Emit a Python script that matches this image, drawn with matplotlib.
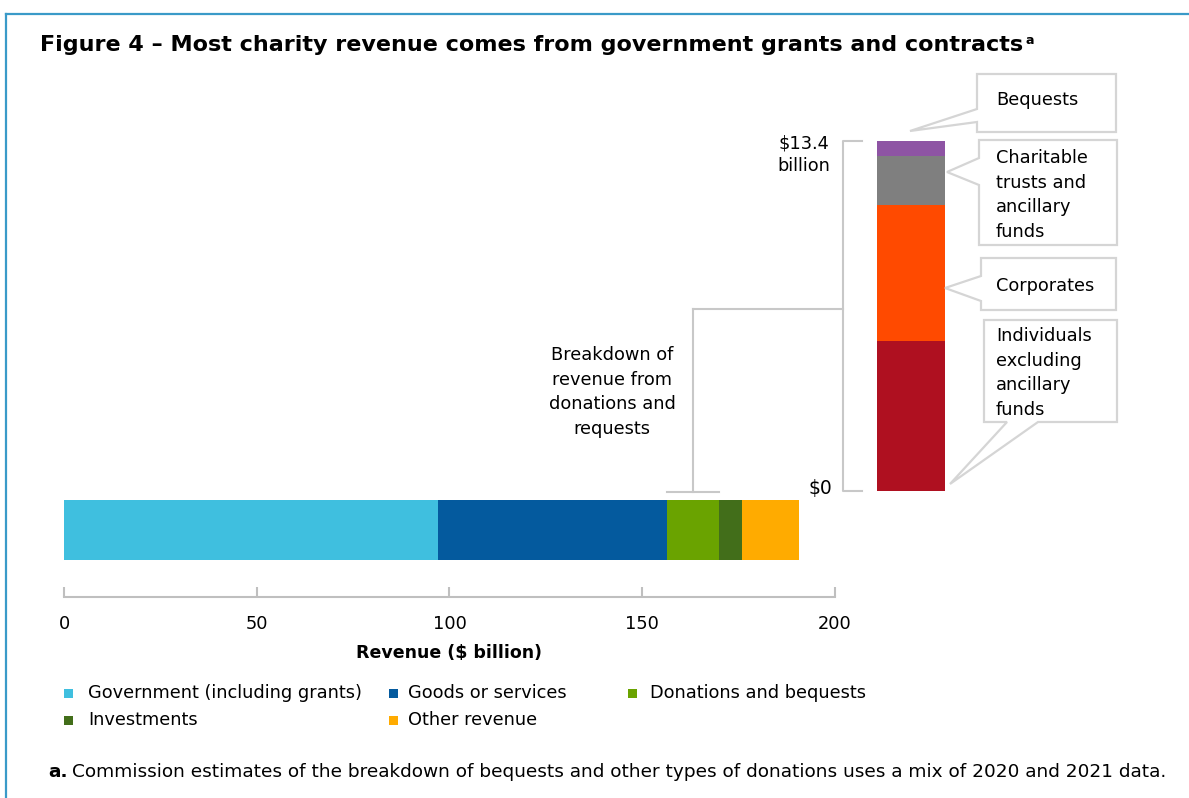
import matplotlib
matplotlib.use('Agg')
import matplotlib.pyplot as plt
from matplotlib.patches import Polygon, Rectangle
from matplotlib.lines import Line2D
import matplotlib.transforms as mtransforms

# data
categories = ['Government (including grants)', 'Goods or services', 'Donations and bequests',
              'Investments', 'Other revenue']
revenue = [97.1, 59.4, 13.4, 6.1, 14.7]
colors = ['#3FBFDF', '#045A9E', '#6AA300', '#426E1A', '#FFAB00']

donation_types = ['Individuals excluding ancillary funds', 'Corporates',
                  'Charitable trusts and ancillary funds', 'Bequests']
donation_values = [5.74, 5.21, 1.88, 0.57]
donation_colors = ['#AF1020', '#FF4A00', '#7F7F7F', '#8E54A4']

xticks = [0, 50, 100, 150, 200]

# Setting font properties
matplotlib.rcParams['font.family'] = 'DejaVu Sans'
matplotlib.rcParams['font.size'] = 12.8

W, H = 1189, 798
fig = plt.figure(figsize=(W / 100, H / 100), dpi=100)


def px(x, y):
    # pixel position (from top left) to figure fraction
    return (x / W, 1 - y / H)


# frame lines at top and left
fig.add_artist(Line2D([6 / W, 1], [1 - 14 / H, 1 - 14 / H], color='#3A9AC8', lw=1.6))
fig.add_artist(Line2D([6 / W, 6 / W], [1 - 14 / H, 0], color='#3A9AC8', lw=1.6))

# title
title = fig.text(40 / W, 1 - 45 / H, 'Figure 4 \u2013 Most charity revenue comes from government grants and contracts',
                 fontsize=16, fontweight='bold', va='center', ha='left')
fig.canvas.draw()
bb = title.get_window_extent()
fig.text((bb.x1 + 2) / W, 1 - 40 / H, 'a', fontsize=9, fontweight='bold', va='center', ha='left')

# main horizontal bar
ax = fig.add_axes([64 / W, 1 - 597 / H, 771 / W, 117 / H])
left = 0
for name, val, col in zip(categories, revenue, colors):
    ax.barh(0, val, left=left, height=0.8, color=col, label=name)
    left += val
ax.set_xlim(0, 200)
ax.set_ylim(-0.893, 0.667)
ax.set_xticks(xticks)
ax.set_yticks([])
for s in ['top', 'left', 'right']:
    ax.spines[s].set_visible(False)
ax.spines['bottom'].set_color('#BFBFBF')
ax.spines['bottom'].set_linewidth(1.5)
ax.tick_params(axis='x', direction='in', length=7, width=1.5, color='#BFBFBF', pad=13, labelsize=12.8)
ax.set_xlabel('Revenue ($ billion)', fontweight='bold', fontsize=12.5, labelpad=8)

# breakdown bar
total = sum(donation_values)
ax2 = fig.add_axes([877 / W, 1 - 491 / H, 68 / W, 350 / H])
bottom = 0
for name, val, col in zip(donation_types, donation_values, donation_colors):
    ax2.bar(0, val, bottom=bottom, width=1, color=col)
    bottom += val
ax2.set_xlim(-0.5, 0.5)
ax2.set_ylim(0, total)
ax2.axis('off')

grey = '#C8C8C8'
trans2 = mtransforms.blended_transform_factory(ax2.transAxes, ax2.transData)
ax2.plot([-0.22, -0.5, -0.5, -0.22], [total, total, 0, 0], transform=trans2,
         color=grey, lw=1.5, clip_on=False)
ax2.text(-0.5 - 39 / 68, total + 0.25, '$%.1f\nbillion' % total, transform=trans2,
         ha='center', va='top', fontsize=12.8, linespacing=1.35)
ax2.text(-0.5 - 11 / 68, 0.1, '$0', transform=trans2, ha='right', va='center', fontsize=13.5)

# connector from donations segment to the bracket
don_start = revenue[0] + revenue[1]
don_mid = don_start + revenue[2] / 2
cap_y = 0.51
join = ax2.transAxes.transform((-0.5, 0.52))
join_ax = ax.transData.inverted().transform(join)
ax.plot([don_start, don_start + revenue[2]], [cap_y, cap_y], color=grey, lw=1.5, clip_on=False)
ax.plot([don_mid, don_mid], [cap_y, join_ax[1]], color=grey, lw=1.5, clip_on=False)
fig.add_artist(Line2D([ax.transData.transform((don_mid, 0))[0] / W, join[0] / W],
                      [join[1] / H, join[1] / H], color=grey, lw=1.5))
fig.text(612 / W, 1 - 392 / H, 'Breakdown of\nrevenue from\ndonations and\nrequests',
         ha='center', va='center', fontsize=12.8, linespacing=1.48)

# callout boxes
callouts = [
    ('Bequests', [(977, 74), (1116, 74), (1116, 132), (977, 132), (977, 122), (910, 131), (977, 109)], 100),
    ('Charitable\ntrusts and\nancillary\nfunds',
     [(979, 140), (1117, 140), (1117, 245), (979, 245), (979, 185), (947, 172), (979, 158)], 195),
    ('Corporates', [(981, 258), (1116, 258), (1116, 310), (981, 310), (981, 301), (945, 288), (981, 276)], 286),
    ('Individuals\nexcluding\nancillary\nfunds',
     [(984, 320), (1117, 320), (1117, 422), (1038, 422), (950, 484), (1007, 422), (984, 422)], 373),
]
for txt, verts, ty in callouts:
    fig.add_artist(Polygon([px(x, y) for x, y in verts], closed=True, facecolor='white',
                           edgecolor='#D5D5D5', lw=1.6, transform=fig.transFigure))
    fig.text(996 / W, 1 - ty / H, txt, ha='left', va='center', fontsize=12.8, linespacing=1.48)

# legend
legend_pos = [(68, 88, 693), (393, 408, 693), (633, 650, 693), (68, 88, 720), (393, 408, 720)]
for (sx, tx, ly), name, col in zip(legend_pos, categories, colors):
    fig.add_artist(Rectangle(px(sx - 4.5, ly + 4.5), 9 / W, 9 / H, facecolor=col,
                             edgecolor='none', transform=fig.transFigure))
    fig.text(tx / W, 1 - ly / H, name, ha='left', va='center', fontsize=12.8)

# footnote
fa = fig.text(48 / W, 1 - 772 / H, 'a.', fontweight='bold', ha='left', va='center', fontsize=13.3)
fig.canvas.draw()
fb = fa.get_window_extent()
fig.text((fb.x1 + 4) / W, 1 - 772 / H,
         'Commission estimates of the breakdown of bequests and other types of donations uses a mix of 2020 and 2021 data.',
         ha='left', va='center', fontsize=13.3)

fig.savefig('out.png', dpi=100)
